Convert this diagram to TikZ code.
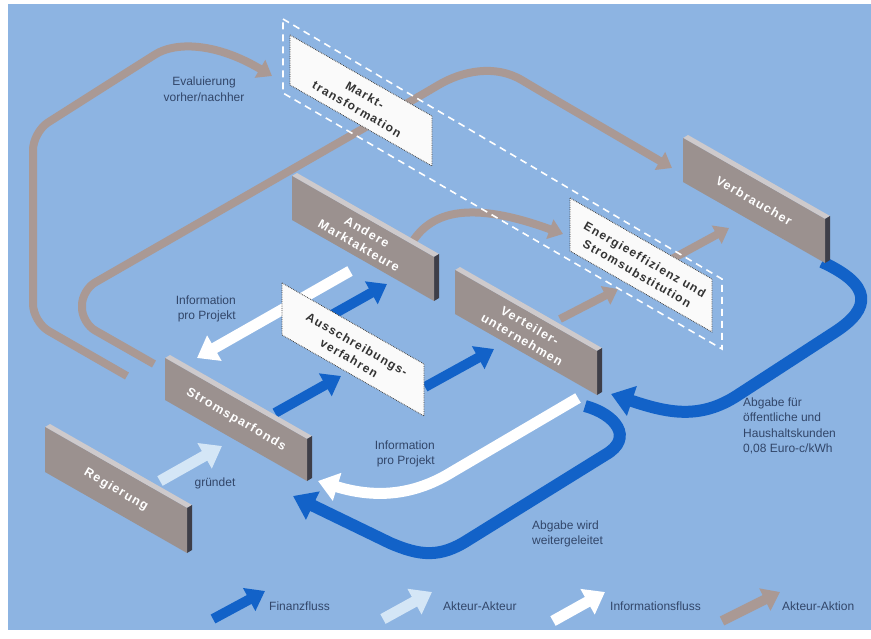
\documentclass[tikz,border=0pt]{standalone}
\usepackage{fontspec}
\setmainfont{Liberation Sans}
\newfontfamily\boxfont{Liberation Sans}[LetterSpace=10]
\usetikzlibrary{arrows.meta}
\definecolor{bgblue}{RGB}{141,180,226}
\definecolor{flowblue}{RGB}{18,98,200}
\definecolor{arrgray}{RGB}{170,153,148}
\definecolor{lightarr}{RGB}{212,230,246}
\definecolor{boxgray}{RGB}{155,145,143}
\definecolor{boxtop}{RGB}{206,202,204}
\definecolor{boxside}{RGB}{62,62,72}
\definecolor{labeltext}{RGB}{50,70,105}
\newcommand{\graybox}[5]{%
  \fill[boxtop] (#2,#3) -- ({#2+142},{#3+81}) -- ({#2+147},{#3+78}) -- ({#2+5},{#3-3}) -- cycle;
  \fill[boxside] ({#2+142},{#3+81}) -- ({#2+147},{#3+78}) -- ({#2+147},{#3+78+#4}) -- ({#2+142},{#3+81+#4}) -- cycle;
  \fill[boxgray] (#2,#3) -- ({#2+142},{#3+81}) -- ({#2+142},{#3+81+#4}) -- (#2,{#3+#4}) -- cycle;
  \node[graytext] (#1) at ({#2+71},{#3+40.5+#4/2}) {#5};
}
\newcommand{\whitebox}[5]{%
  \filldraw[fill=white!96!gray, draw=black!75, densely dotted, line width=0.8pt] (#2,#3) -- ({#2+142},{#3+81}) -- ({#2+142},{#3+81+#4}) -- (#2,{#3+#4}) -- cycle;
  \node[whitetext] (#1) at ({#2+71},{#3+42+#4/2}) {#5};
}
\tikzset{
  grayarrow/.style={draw=arrgray, line width=8pt, -{Triangle[width=20pt,length=14pt]}},
  bluearrow/.style={draw=flowblue, line width=10pt, -{Triangle[width=25pt,length=18pt]}},
  blueloop/.style={draw=flowblue, line width=12pt, -{Triangle[width=30pt,length=22pt]}},
  whitearrow/.style={draw=white, line width=11pt, -{Triangle[width=28pt,length=20pt]}},
  lightarrow/.style={draw=lightarr, line width=11pt, -{Triangle[width=28pt,length=20pt]}},
  lbl/.style={font=\fontsize{12}{15.5}\selectfont, text=labeltext, inner sep=0pt},
  graytext/.style={font=\boxfont\bfseries\fontsize{12.5}{16}\selectfont, text=white, rotate=-30, align=center, inner sep=0pt},
  whitetext/.style={font=\boxfont\bfseries\fontsize{12}{16}\selectfont, text=black!80, rotate=-30, align=center, inner sep=0pt},
}
\begin{document}
\begin{tikzpicture}[x=1pt,y=-1pt]
\useasboundingbox (0,0) rectangle (871,639);
\fill[white] (0,0) rectangle (871,639);
\fill[bgblue] (8,4) rectangle (871,630);

% ---- connector end points
\coordinate (g1s) at (127,376); \coordinate (g1e) at (272,76);
\coordinate (g2s) at (154,364); \coordinate (g2e) at (672,168);
\coordinate (g3s) at (413,241); \coordinate (g3e) at (563,234);
\coordinate (g4s) at (560,319); \coordinate (g4e) at (618,289);
\coordinate (g5s) at (672,259); \coordinate (g5e) at (729,228);
\coordinate (b1s) at (275,413); \coordinate (b1e) at (341,376);
\coordinate (b2s) at (330,316); \coordinate (b2e) at (387,284);
\coordinate (b3s) at (425,387); \coordinate (b3e) at (494,349);
\coordinate (b4s) at (822,262); \coordinate (b4e) at (611,394);
\coordinate (b5s) at (585,406); \coordinate (b5e) at (293,496);
\coordinate (w1s) at (350,271); \coordinate (w1e) at (197,358);
\coordinate (w2s) at (578,398); \coordinate (w2e) at (318,481);
\coordinate (l1s) at (160,481); \coordinate (l1e) at (222,446);

% ---- gray (Akteur-Aktion) arrows
\draw[grayarrow, rounded corners=18pt] (g1s) -- (33,322) -- (33,132) -- (140,64) .. controls (175,42) and (215,42) .. (g1e);
\draw[grayarrow, rounded corners=15pt] (g2s) -- (82,323) -- (82,290) -- (425,93) .. controls (462,71) and (495,64) .. (535,88) -- (g2e);
\draw[grayarrow] (g3s) .. controls (432,212) and (470,200) .. (g3e);
\draw[grayarrow] (g4s) -- (g4e);
\draw[grayarrow] (g5s) -- (g5e);

% ---- blue (Finanzfluss) arrows
\draw[bluearrow] (b1s) -- (b1e);
\draw[bluearrow] (b2s) -- (b2e);
\draw[bluearrow] (b3s) -- (b3e);
\draw[blueloop] (b4s) .. controls (872,285) and (872,308) .. (835,332) -- (738,395) .. controls (700,420) and (668,413) .. (b4e);
\draw[blueloop] (b5s) .. controls (615,414) and (635,438) .. (605,455) -- (468,540) .. controls (440,558) and (420,556) .. (390,543) -- (b5e);

% ---- white (Informationsfluss) arrows
\draw[whitearrow] (w1s) -- (w1e);
\draw[whitearrow] (w2s) -- (452,472) .. controls (418,493) and (380,500) .. (w2e);

% ---- light (Akteur-Akteur) arrow
\draw[lightarrow] (l1s) -- (l1e);

% ---- boxes
\graybox{verb}{683}{138}{44}{Verbraucher}
\graybox{andere}{292}{176}{44}{Andere\\Marktakteure}
\graybox{verteiler}{455}{270}{44}{Verteiler-\\unternehmen}
\graybox{fonds}{165}{358}{42}{Stromsparfonds}
\graybox{reg}{45}{427}{45}{Regierung}
\whitebox{markt}{290}{35}{50}{Markt-\\transformation}
\whitebox{aus}{282}{283}{52}{Ausschreibungs-\\verfahren}
\whitebox{energie}{570}{198}{53}{Energieeffizienz und\\Stromsubstitution}

% ---- dashed outline
\draw[white, line width=1.6pt, dash pattern=on 7pt off 5pt] (283,19) -- (722,279) -- (722,349) -- (283,93) -- cycle;

% ---- labels
\node[lbl, align=center] (evl) at (204,89) {Evaluierung\\vorher/nachher};
\node[lbl, align=right, anchor=east] (inf1) at (236,309) {Information\\pro Projekt};
\node[lbl] (gr) at (215,483) {gründet};
\node[lbl, align=right, anchor=east] (inf2) at (435,454) {Information\\pro Projekt};
\node[lbl, align=left, anchor=west] (abw) at (532,534) {Abgabe wird\\weitergeleitet};
\node[lbl, align=left, anchor=west] (abf) at (743,426) {Abgabe für\\öffentliche und\\Haushaltskunden\\0,08 Euro-c/kWh};

% ---- legend
\coordinate (k1s) at (213,619); \coordinate (k1e) at (265,591);
\coordinate (k2s) at (383,619); \coordinate (k2e) at (432,592);
\coordinate (k3s) at (553,621); \coordinate (k3e) at (605,592);
\coordinate (k4s) at (722,621); \coordinate (k4e) at (780,592);
\draw[bluearrow] (k1s) -- (k1e);
\draw[lightarrow] (k2s) -- (k2e);
\draw[whitearrow] (k3s) -- (k3e);
\draw[grayarrow, line width=10pt, -{Triangle[width=24pt,length=17pt]}] (k4s) -- (k4e);
\node[lbl, anchor=west] (lg1) at (269,606) {Finanzfluss};
\node[lbl, anchor=west] (lg2) at (443,606) {Akteur-Akteur};
\node[lbl, anchor=west] (lg3) at (610,606) {Informationsfluss};
\node[lbl, anchor=west] (lg4) at (782,606) {Akteur-Aktion};
\end{tikzpicture}
\end{document}
